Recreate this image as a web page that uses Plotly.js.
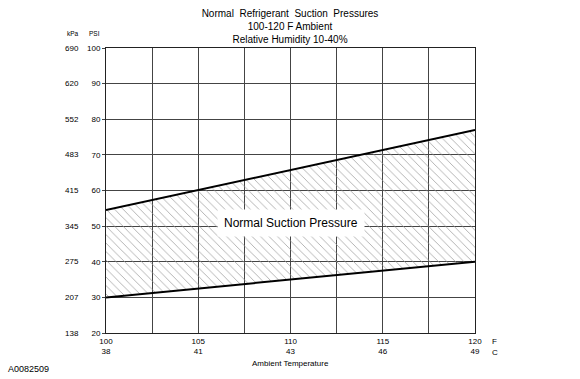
<!DOCTYPE html>
<html><head><meta charset="utf-8">
<script src="https://cdn.plot.ly/plotly-3.0.1.min.js"></script>
<style>html,body{margin:0;padding:0;background:#fff}#chart{width:580px;height:379px}</style>
</head><body><div id="chart"></div>
<script>
// Data
const tempF = [100, 120];
const upperPSI = [54.5, 77];
const lowerPSI = [30, 40];
const tempTickVals = [100, 102.5, 105, 107.5, 110, 112.5, 115, 117.5, 120];
const tempFLabels = ['100', '', '105', '', '110', '', '115', '', '120'];
const tempCLabels = ['38', '', '41', '', '43', '', '46', '', '49'];
const psiTicks = [20, 30, 40, 50, 60, 70, 80, 90, 100];
const kpaLabels = ['138', '207', '275', '345', '415', '483', '552', '620', '690'];
const bandLabel = 'Normal Suction Pressure';
const bandLabelPos = {x: 110, y: 51};

const FONT = 'Liberation Sans, Arial, sans-serif';
const xTickText = tempFLabels.map((f, i) => f ? f + '<br>' + tempCLabels[i] : '');

const traces = [
  {x: tempF, y: lowerPSI, mode: 'lines', line: {color: '#000', width: 2}, hoverinfo: 'skip', showlegend: false},
  {x: tempF, y: upperPSI, mode: 'lines', line: {color: '#000', width: 2}, fill: 'tonexty',
   fillcolor: 'rgba(0,0,0,0)',
   fillpattern: {shape: '\\', fgcolor: '#999', bgcolor: 'rgba(0,0,0,0)', size: 6, solidity: 0.12},
   hoverinfo: 'skip', showlegend: false}
];

const annotations = kpaLabels.map((t, i) => ({
  text: t, xref: 'paper', yref: 'y', x: -0.068, y: psiTicks[i], xanchor: 'right', yanchor: 'middle',
  showarrow: false, font: {family: FONT, size: 8, color: '#000'}
}));
annotations.push(
  {text: 'kPa', xref: 'paper', yref: 'paper', x: -0.068, y: 1.05, xanchor: 'right', yanchor: 'middle', showarrow: false, font: {family: FONT, size: 6.5, color: '#000'}},
  {text: 'PSI', xref: 'paper', yref: 'paper', x: -0.01, y: 1.05, xanchor: 'right', yanchor: 'middle', showarrow: false, font: {family: FONT, size: 6.5, color: '#000'}},
  {text: 'F', xref: 'paper', yref: 'paper', x: 1.04, y: -0.03, xanchor: 'left', yanchor: 'middle', showarrow: false, font: {family: FONT, size: 8, color: '#000'}},
  {text: 'C', xref: 'paper', yref: 'paper', x: 1.04, y: -0.07, xanchor: 'left', yanchor: 'middle', showarrow: false, font: {family: FONT, size: 8, color: '#000'}},
  {text: 'Ambient Temperature', xref: 'paper', yref: 'paper', x: 0.5, y: -0.108, xanchor: 'center', yanchor: 'middle', showarrow: false, font: {family: FONT, size: 8, color: '#000'}},
  {text: 'A0082509', xref: 'paper', yref: 'paper', x: -0.272, y: -0.127, xanchor: 'left', yanchor: 'middle', showarrow: false, font: {family: FONT, size: 9, color: '#000'}},
  {text: bandLabel, x: bandLabelPos.x, y: bandLabelPos.y, xref: 'x', yref: 'y', showarrow: false, bgcolor: '#fff', borderpad: 6, font: {family: FONT, size: 12, color: '#000'}}
);

const layout = {
  width: 580, height: 379,
  margin: {l: 106, r: 105, t: 48, b: 46, pad: 0},
  paper_bgcolor: '#fff', plot_bgcolor: '#fff',
  font: {family: FONT, color: '#000'},
  title: {text: 'Normal  Refrigerant  Suction  Pressures<br>100-120 F Ambient<br>Relative Humidity 10-40%',
    x: 0.5, xanchor: 'center', y: 0.955, yanchor: 'top', font: {family: FONT, size: 10, color: '#000'}},
  xaxis: {range: [100, 120], tickvals: tempTickVals, ticktext: xTickText, ticks: '', showgrid: true,
    gridcolor: '#444', gridwidth: 1, showline: true, linecolor: '#222', linewidth: 1, mirror: true,
    zeroline: false, tickfont: {family: FONT, size: 8, color: '#000'}, fixedrange: true},
  yaxis: {range: [20, 100], tickvals: psiTicks, ticks: 'outside', ticklen: 3, tickcolor: '#444',
    showgrid: true, gridcolor: '#444', gridwidth: 1, showline: true, linecolor: '#222', linewidth: 1, mirror: true,
    zeroline: false, tickfont: {family: FONT, size: 8, color: '#000'}, fixedrange: true},
  annotations: annotations,
  showlegend: false
};

Plotly.newPlot('chart', traces, layout, {staticPlot: true, displayModeBar: false});
</script></body></html>
